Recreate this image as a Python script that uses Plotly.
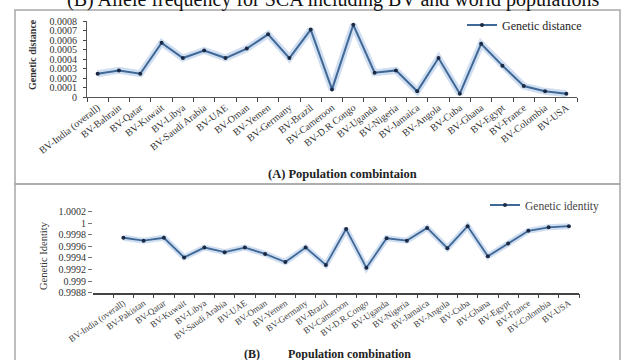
import plotly.graph_objects as go

# ---------------- data ----------------
categories_a = ["BV-India (overall)", "BV-Bahrain", "BV-Qatar", "BV-Kuwait", "BV-Libya",
                "BV-Saudi Arabia", "BV-UAE", "BV-Oman", "BV-Yemen", "BV-Germany", "BV-Brazil",
                "BV-Cameroon", "BV-D.R Congo", "BV-Uganda", "BV-Nigeria", "BV-Jamaica",
                "BV-Angola", "BV-Cuba", "BV-Ghana", "BV-Egypt", "BV-France", "BV-Colombia", "BV-USA"]
genetic_distance = [0.000245, 0.00028, 0.000245, 0.00057, 0.00041, 0.00049, 0.00041, 0.00051,
                    0.00066, 0.00041, 0.00071, 0.00008, 0.00076, 0.000256, 0.00028, 0.00006,
                    0.00041, 0.000035, 0.00056, 0.00033, 0.000115, 0.00006, 0.000035]

categories_b = ["BV-India (overall)", "BV-Pakistan", "BV-Qatar", "BV-Kuwait", "BV-Libya",
                "BV-Saudi Arabia", "BV-UAE", "BV-Oman", "BV-Yemen", "BV-Germany", "BV-Brazil",
                "BV-Cameroon", "BV-D.R.Congo", "BV-Uganda", "BV-Nigeria", "BV-Jamaica",
                "BV-Angola", "BV-Cuba", "BV-Ghana", "BV-Egypt", "BV-France", "BV-Colombia", "BV-USA"]
genetic_identity = [0.99975, 0.9997, 0.99975, 0.99941, 0.99958, 0.9995, 0.99958, 0.99947,
                    0.99933, 0.99958, 0.99928, 0.9999, 0.99923, 0.99974, 0.9997, 0.99992,
                    0.99957, 0.99995, 0.99943, 0.99965, 0.99987, 0.99993, 0.99995]

ytick_vals_a = [0, 0.0001, 0.0002, 0.0003, 0.0004, 0.0005, 0.0006, 0.0007, 0.0008]
ytick_text_a = ["0", "0.0001", "0.0002", "0.0003", "0.0004", "0.0005", "0.0006", "0.0007", "0.0008"]
ytick_vals_b = [0.9988, 0.999, 0.9992, 0.9994, 0.9996, 0.9998, 1.0, 1.0002]
ytick_text_b = ["0.9988", "0.999", "0.9992", "0.9994", "0.9996", "0.9998", "1", "1.0002"]

title_text = "(B) Allele frequency for SCA including BV and world populations"

# ---------------- layout helpers ----------------
W, H = 623, 360
def px(x):
    return x / W
def py(y):
    return 1 - y / H

SERIF = "Liberation Serif, Times New Roman, serif"
LINE = "#3f6896"
GLOW = "rgba(120,160,215,0.35)"
MARK = "#1b2a44"

fig = go.Figure()

# top chart
fig.add_trace(go.Scatter(x=categories_a, y=genetic_distance, mode="lines",
                         line=dict(color=GLOW, width=7), showlegend=False,
                         hoverinfo="skip", xaxis="x", yaxis="y"))
fig.add_trace(go.Scatter(x=categories_a, y=genetic_distance, mode="lines+markers",
                         name="Genetic distance",
                         line=dict(color=LINE, width=2),
                         marker=dict(color=MARK, size=4),
                         xaxis="x", yaxis="y", legend="legend"))

# bottom chart
fig.add_trace(go.Scatter(x=categories_b, y=genetic_identity, mode="lines",
                         line=dict(color=GLOW, width=6), showlegend=False,
                         hoverinfo="skip", xaxis="x2", yaxis="y2"))
fig.add_trace(go.Scatter(x=categories_b, y=genetic_identity, mode="lines+markers",
                         name="Genetic identity",
                         line=dict(color=LINE, width=1.8),
                         marker=dict(color=MARK, size=4),
                         xaxis="x2", yaxis="y2", legend="legend2"))

tickfont_a = dict(family=SERIF, size=10, color="#333333")
tickfont_b = dict(family=SERIF, size=9, color="#444444")
ytickfont = dict(family=SERIF, size=10, color="#333333")

fig.update_layout(
    width=W, height=H,
    margin=dict(l=0, r=0, t=0, b=0),
    paper_bgcolor="white", plot_bgcolor="white",
    xaxis=dict(domain=[px(87), px(577)], anchor="y", type="category",
               range=[-0.5, 22.5], tickson="boundaries", ticks="outside", ticklen=4,
               tickcolor="#444", showline=True, linecolor="#555", linewidth=1,
               showgrid=False, zeroline=False, tickangle=-38, tickfont=tickfont_a,
               automargin=False),
    yaxis=dict(domain=[py(97), py(21)], anchor="x", range=[0, 0.0008],
               tickvals=ytick_vals_a, ticktext=ytick_text_a, ticks="outside", ticklen=3,
               tickcolor="#444", showline=True, linecolor="#555", linewidth=1,
               showgrid=False, zeroline=False, tickfont=ytickfont, automargin=False,
               ticklabelstandoff=4),
    xaxis2=dict(domain=[px(93), px(579)], anchor="y2", type="category",
                range=[-1.5, 22.5], tickson="boundaries", ticks="outside", ticklen=4,
                tickcolor="#444", showline=True, linecolor="#444", linewidth=1.5,
                showgrid=False, zeroline=False, tickangle=-35, tickfont=tickfont_b,
                automargin=False),
    yaxis2=dict(domain=[py(292.7), py(211.7)], anchor="x2", range=[0.9988, 1.0002],
                tickvals=ytick_vals_b, ticktext=ytick_text_b, ticks="outside", ticklen=4,
                tickcolor="#777", showline=False, showgrid=False, zeroline=False,
                tickfont=ytickfont, automargin=False),
    legend=dict(x=px(462), y=py(25), xanchor="left", yanchor="middle",
                bgcolor="rgba(0,0,0,0)", font=dict(family=SERIF, size=12, color="#222"),
                itemwidth=30, tracegroupgap=0),
    legend2=dict(x=px(485), y=py(205), xanchor="left", yanchor="middle",
                 bgcolor="rgba(0,0,0,0)", font=dict(family=SERIF, size=11.5, color="#444"),
                 itemwidth=30, tracegroupgap=0),
    shapes=[
        dict(type="rect", xref="paper", yref="paper", x0=px(15), x1=px(620),
             y0=py(184), y1=py(10), line=dict(color="#a8a8a8", width=1.5)),
        dict(type="rect", xref="paper", yref="paper", x0=px(15), x1=px(620),
             y0=py(364), y1=py(184), line=dict(color="#a8a8a8", width=1.5)),
    ],
    annotations=[
        dict(text=title_text, xref="paper", yref="paper", x=px(333), y=py(13),
             xanchor="center", yanchor="bottom", showarrow=False,
             font=dict(family=SERIF, size=20, color="#111")),
        dict(text="<b>Genetic distance</b>", xref="paper", yref="paper", x=px(32), y=py(55),
             xanchor="center", yanchor="middle", textangle=-90, showarrow=False,
             font=dict(family=SERIF, size=10, color="#333")),
        dict(text="<b>(A) Population combintaion</b>", xref="paper", yref="paper",
             x=px(342), y=py(174), xanchor="center", yanchor="middle", showarrow=False,
             font=dict(family=SERIF, size=12.5, color="#222")),
        dict(text="Genetic Identity", xref="paper", yref="paper", x=px(43), y=py(256),
             xanchor="center", yanchor="middle", textangle=-90, showarrow=False,
             font=dict(family=SERIF, size=10.5, color="#333")),
        dict(text="<b>(B)</b>", xref="paper", yref="paper", x=px(252), y=py(354),
             xanchor="center", yanchor="middle", showarrow=False,
             font=dict(family=SERIF, size=12, color="#222")),
        dict(text="<b>Population combination</b>", xref="paper", yref="paper",
             x=px(349), y=py(354), xanchor="center", yanchor="middle", showarrow=False,
             font=dict(family=SERIF, size=12, color="#222")),
    ],
)

fig.write_html("out.html", config={"displayModeBar": False},
               post_script="document.body.style.margin='0';document.body.style.overflow='hidden';")
